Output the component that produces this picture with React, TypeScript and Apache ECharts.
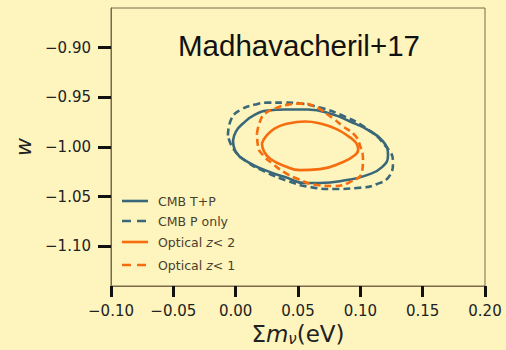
import React, { useEffect, useRef } from "react";
import * as echarts from "echarts";

// Contour points: [Σmν (eV), w]
const cmbTP: [number, number][] = [
  [-0.0021, -0.9933], [0.0003, -0.9843], [0.0059, -0.9763], [0.0155, -0.9673],
  [0.0259, -0.9633], [0.0396, -0.9623], [0.058, -0.9623], [0.0781, -0.9673],
  [0.0917, -0.9743], [0.1053, -0.9823], [0.1182, -0.9943], [0.1222, -1.0083],
  [0.1174, -1.0203], [0.1053, -1.0283], [0.0893, -1.0333], [0.0676, -1.0363],
  [0.0556, -1.0363], [0.0396, -1.0303], [0.0235, -1.0233], [0.0099, -1.0153],
  [0.0003, -1.0053], [-0.0021, -0.9933],
];
const cmbPonly: [number, number][] = [
  [-0.0062, -0.9883], [-0.0037, -0.9723], [0.0043, -0.9623], [0.0155, -0.9573],
  [0.0259, -0.9553], [0.0396, -0.9553], [0.0524, -0.9563], [0.0676, -0.9603],
  [0.0837, -0.9673], [0.1037, -0.9803], [0.1198, -0.9983], [0.1262, -1.0153],
  [0.1238, -1.0283], [0.1134, -1.0373], [0.0973, -1.0413], [0.0781, -1.0423],
  [0.0596, -1.0403], [0.042, -1.0343], [0.0243, -1.0253], [0.0083, -1.0143],
  [-0.0021, -1.0013], [-0.0062, -0.9883],
];
const opticalZ2: [number, number][] = [
  [0.0211, -0.9963], [0.0243, -0.9893], [0.0315, -0.9813], [0.042, -0.9763],
  [0.0556, -0.9743], [0.0676, -0.9763], [0.0805, -0.9818], [0.0905, -0.9893],
  [0.0965, -0.9958], [0.0983, -1.0023], [0.0955, -1.0083], [0.0857, -1.0153],
  [0.0676, -1.0223], [0.0516, -1.0233], [0.0396, -1.0193], [0.0283, -1.0123],
  [0.0227, -1.0043], [0.0211, -0.9963],
];
const opticalZ1: [number, number][] = [
  [0.0171, -0.9863], [0.0195, -0.9743], [0.0235, -0.9663], [0.0315, -0.9613],
  [0.042, -0.9573], [0.0524, -0.9563], [0.0636, -0.9593], [0.0781, -0.9713],
  [0.0861, -0.9793], [0.0957, -0.9883], [0.0997, -0.9983], [0.1021, -1.0123],
  [0.1013, -1.0253], [0.0917, -1.0353], [0.0781, -1.0393], [0.0652, -1.0383],
  [0.05, -1.0323], [0.0388, -1.0253], [0.0291, -1.0163], [0.0227, -1.0093],
  [0.0179, -0.9993], [0.0171, -0.9863],
];

const seriesNames = ["CMB T+P", "CMB P only", "Optical z<2", "Optical z<1"];
const legendLabels = ["CMB T+P", "CMB P only", "Optical {i|z}< 2", "Optical {i|z}< 1"];
const yTicks = [-1.1, -1.05, -1.0, -0.95, -0.9];
const xRange = [-0.1, 0.2];
const yRange = [-1.14, -0.86];
const titleText = "Madhavacheril+17";

const BLUE = "#3b6878";
const ORANGE = "#f56d0e";
const LEGEND_TEXT = "#4a3f2c";

const fmt = (v: number) => {
  if (Math.abs(v) < 1e-9) v = 0;
  const s = v.toFixed(2);
  return s.replace("-", "\u2212");
};

export default function App() {
  const ref = useRef<HTMLDivElement>(null);
  useEffect(() => {
    if (!ref.current) return;
    const chart = echarts.init(ref.current, null, { renderer: "svg" });
    const lineSeries = (
      name: string,
      data: [number, number][],
      color: string,
      dashed: boolean
    ) => ({
      name,
      type: "line",
      data,
      smooth: 0.5,
      symbol: "none",
      showSymbol: false,
      lineStyle: {
        color,
        width: 2.6,
        type: dashed ? [7, 4] : "solid",
      },
      itemStyle: { color },
      z: dashed ? 3 : 2,
    });
    const colors = [BLUE, BLUE, ORANGE, ORANGE];
    const dashes = [false, true, false, true];
    const rowsY = [201, 221, 242, 265];
    const legendGraphics: any[] = [];
    legendLabels.forEach((lab, i) => {
      legendGraphics.push({
        type: "line",
        shape: { x1: 122, y1: rowsY[i], x2: 148, y2: rowsY[i] },
        style: {
          stroke: colors[i],
          lineWidth: 2.6,
          lineDash: dashes[i] ? [9, 6] : null,
        },
      });
      legendGraphics.push({
        type: "text",
        x: 158,
        y: rowsY[i],
        style: {
          text: lab,
          font: '12.5px "DejaVu Sans", sans-serif',
          fill: LEGEND_TEXT,
          textVerticalAlign: "middle",
          rich: {
            i: {
              fontFamily: '"DejaVu Sans", sans-serif',
              fontStyle: "italic",
              fontSize: 12.5,
              fill: LEGEND_TEXT,
              color: LEGEND_TEXT,
            },
          },
        },
      });
    });
    const option: any = {
      animation: false,
      backgroundColor: "#fdf5bd",
      grid: {
        left: 111,
        right: 21,
        top: 8,
        bottom: 64,
        containLabel: false,
        outerBoundsMode: "none",
        show: true,
        borderColor: "#7a6848",
        borderWidth: 1,
        backgroundColor: "transparent",
      },
      graphic: [
        {
          type: "text",
          x: 299,
          y: 45,
          style: {
            text: titleText,
            font: '29.5px "Liberation Sans", Arial, sans-serif',
            fill: "#111",
            textAlign: "center",
            textVerticalAlign: "middle",
          },
        },
        ...legendGraphics,
      ],
      xAxis: {
        type: "value",
        min: xRange[0],
        max: xRange[1],
        interval: 0.05,
        name: "{a|Σ}{i|m}{s|ν}{a|(eV)}",
        nameLocation: "middle",
        nameGap: 35,
        nameTextStyle: {
          rich: {
            a: { fontFamily: '"DejaVu Sans", sans-serif', fontSize: 23, color: "#222" },
            i: { fontFamily: '"DejaVu Sans", sans-serif', fontSize: 23, fontStyle: "italic", color: "#222" },
            s: { fontFamily: '"DejaVu Sans", sans-serif', fontSize: 15, fontStyle: "italic", color: "#222", padding: [10, 0, 0, 0] },
          },
        },
        axisLine: { show: true, onZero: false, lineStyle: { color: "#7a6848", width: 1 } },
        axisTick: { show: true, inside: false, length: 11, lineStyle: { color: "#111", width: 3 } },
        axisLabel: {
          formatter: fmt,
          margin: 17,
          fontFamily: '"DejaVu Sans", sans-serif',
          fontSize: 15,
          color: "#222",
        },
        splitLine: { show: false },
      },
      yAxis: {
        type: "value",
        min: yRange[0],
        max: yRange[1],
        name: "w",
        nameLocation: "middle",
        nameGap: 76,
        nameTextStyle: {
          fontFamily: '"DejaVu Sans", sans-serif',
          fontSize: 22,
          fontStyle: "italic",
          color: "#222",
        },
        axisLine: { show: true, onZero: false, lineStyle: { color: "#7a6848", width: 1 } },
        axisTick: {
          show: true,
          inside: false,
          length: 13,
          customValues: yTicks,
          lineStyle: { color: "#111", width: 3 },
        },
        axisLabel: {
          customValues: yTicks,
          formatter: fmt,
          margin: 20,
          fontFamily: '"DejaVu Sans", sans-serif',
          fontSize: 15,
          color: "#222",
        },
        splitLine: { show: false },
      },
      series: [
        lineSeries(seriesNames[0], cmbTP, BLUE, false),
        lineSeries(seriesNames[1], cmbPonly, BLUE, true),
        lineSeries(seriesNames[2], opticalZ2, ORANGE, false),
        lineSeries(seriesNames[3], opticalZ1, ORANGE, true),
      ],
    };
    chart.setOption(option);
    return () => chart.dispose();
  }, []);
  return (
    <div
      ref={ref}
      style={{ position: "fixed", left: 0, top: 0, width: 506, height: 350 }}
    />
  );
}
